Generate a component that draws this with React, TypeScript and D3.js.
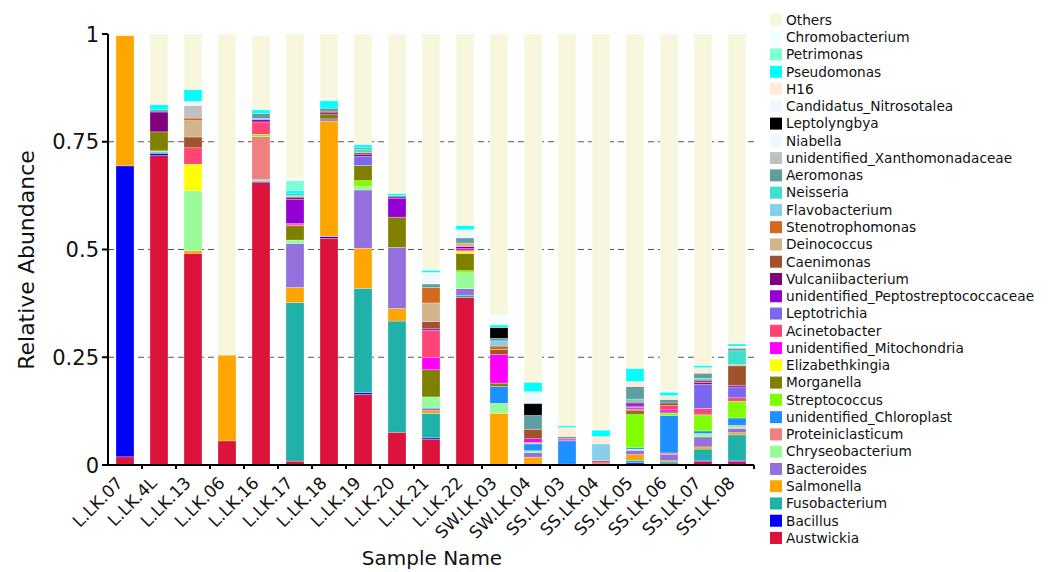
import React from "react";
import * as d3 from "d3";

const samples = ["L.LK.07","L.LK.4L","L.LK.13","L.LK.06","L.LK.16","L.LK.17","L.LK.18","L.LK.19","L.LK.20","L.LK.21","L.LK.22","SW.LK.03","SW.LK.04","SS.LK.03","SS.LK.04","SS.LK.05","SS.LK.06","SS.LK.07","SS.LK.08"];

const Austwickia =        [0.019,0.718,0.491,0.056,0.655,0.009,0.526,0.164,0.076,0.060,0.389,0,0,0,0,0.002,0.002,0.008,0.008];
const Bacillus =          [0.675,0.005,0,0,0.002,0,0.004,0.004,0,0.003,0,0,0,0.002,0.003,0.003,0,0.003,0.003];
const Fusobacterium =     [0,0.003,0,0,0.002,0.368,0,0.242,0.258,0.057,0.005,0,0,0,0,0.006,0.005,0.026,0.059];
const Salmonella =        [0.302,0,0.006,0.199,0.002,0.035,0.268,0.093,0.029,0.006,0,0.120,0.018,0,0,0.013,0.003,0.005,0.005];
const Bacteroides =       [0,0,0,0,0.002,0.102,0.005,0.135,0.142,0.006,0.015,0,0.011,0,0,0.010,0.015,0.023,0.010];
const Chryseobacterium =  [0,0.003,0.139,0,0,0.008,0,0.008,0,0.026,0.037,0.023,0.004,0,0,0.003,0,0.008,0.004];
const Proteiniclasticum = [0,0,0,0,0.099,0,0,0,0,0,0,0,0,0,0,0,0.003,0,0.003];
const Chloroplast =       [0,0,0,0,0,0,0,0,0,0,0,0.039,0.016,0.054,0,0.004,0.087,0.006,0.017];
const Streptococcus =     [0,0,0,0,0.005,0,0,0.014,0,0,0.005,0,0.003,0,0,0.076,0.005,0.036,0.039];
const Morganella =        [0,0.044,0,0,0,0.033,0.010,0.035,0.070,0.063,0.040,0.008,0,0,0,0.009,0.003,0.003,0];
const Elizabethkingia =   [0,0,0.062,0,0,0,0,0,0,0,0.006,0,0,0,0,0,0,0,0];
const Mitochondria =      [0,0,0,0,0,0.002,0,0,0,0.029,0.005,0.066,0.009,0.002,0,0.003,0.005,0,0];
const Acinetobacter =     [0,0,0.038,0,0.029,0.003,0,0,0,0.062,0,0,0,0.003,0.004,0.004,0.010,0.013,0.008];
const Leptotrichia =      [0,0,0,0,0,0,0,0.021,0,0,0,0,0,0,0,0.004,0,0.056,0.025];
const Peptostrep =        [0,0,0,0,0.006,0.056,0,0,0.044,0.004,0,0,0,0,0,0.005,0,0.005,0.003];
const Vulcaniibacterium = [0,0.046,0,0,0,0.004,0.004,0.005,0.003,0,0.005,0,0,0,0,0.003,0,0,0];
const Caenimonas =        [0,0,0.025,0,0,0.003,0.004,0.004,0,0.017,0,0.012,0.022,0,0.003,0.003,0.006,0.005,0.046];
const Deinococcus =       [0,0,0.038,0,0,0,0,0,0,0.043,0.008,0,0,0,0,0,0,0,0.003];
const Stenotrophomonas =  [0,0,0.006,0,0,0,0,0,0,0.036,0,0.008,0,0,0,0,0,0,0];
const Flavobacterium =    [0,0,0,0,0,0,0,0,0,0,0,0.012,0,0,0.039,0,0,0,0];
const Neisseria =         [0,0,0,0,0.002,0.003,0,0.008,0,0,0,0,0,0,0,0.005,0,0.004,0.032];
const Aeromonas =         [0,0.005,0,0,0.012,0.003,0.007,0.003,0.003,0.008,0.012,0.006,0.032,0.005,0,0.029,0.008,0.012,0.006];
const Xanthomonadaceae =  [0,0,0.029,0,0,0,0,0,0,0,0,0,0,0,0,0,0,0,0];
const Niabella =          [0,0,0.010,0,0,0,0,0,0,0.027,0.019,0,0,0,0,0,0,0,0];
const Leptolyngbya =      [0,0,0,0,0,0,0,0,0,0,0,0.025,0.028,0,0,0,0,0,0];
const Candidatus =        [0,0,0,0,0,0,0,0,0,0,0,0,0.027,0,0,0,0,0,0];
const H16 =               [0,0,0,0,0,0,0,0,0,0,0,0,0,0.021,0.017,0.012,0.009,0.013,0.005];
const Pseudomonas =       [0,0.012,0.027,0,0.008,0.008,0.017,0.007,0.005,0.005,0.010,0.006,0.022,0.004,0.015,0.030,0.008,0.005,0.005];
const Petrimonas =        [0,0,0,0,0,0.023,0,0,0,0,0,0,0,0,0,0,0,0,0];
const Chromobacterium =   [0,0,0,0,0,0.005,0.005,0,0,0,0,0.023,0,0,0,0,0.005,0,0];
const Others =            [0.004,0.164,0.129,0.745,0.172,0.335,0.150,0.257,0.370,0.548,0.444,0.652,0.808,0.909,0.919,0.776,0.826,0.769,0.719];

const yTicks = [0, 0.25, 0.5, 0.75, 1];
const yTickLabels = ["0", "0.25", "0.5", "0.75", "1"];

// bottom -> top stacking order
const taxa: [string, string, number[]][] = [
  ["Austwickia", "#DC143C", Austwickia],
  ["Bacillus", "#0000FF", Bacillus],
  ["Fusobacterium", "#20B2AA", Fusobacterium],
  ["Salmonella", "#FFA500", Salmonella],
  ["Bacteroides", "#9370DB", Bacteroides],
  ["Chryseobacterium", "#98FB98", Chryseobacterium],
  ["Proteiniclasticum", "#F08080", Proteiniclasticum],
  ["unidentified_Chloroplast", "#1E90FF", Chloroplast],
  ["Streptococcus", "#7FFF00", Streptococcus],
  ["Morganella", "#808000", Morganella],
  ["Elizabethkingia", "#FFFF00", Elizabethkingia],
  ["unidentified_Mitochondria", "#FF00FF", Mitochondria],
  ["Acinetobacter", "#FF4573", Acinetobacter],
  ["Leptotrichia", "#7B68EE", Leptotrichia],
  ["unidentified_Peptostreptococcaceae", "#9400D3", Peptostrep],
  ["Vulcaniibacterium", "#800080", Vulcaniibacterium],
  ["Caenimonas", "#A0522D", Caenimonas],
  ["Deinococcus", "#D2B48C", Deinococcus],
  ["Stenotrophomonas", "#D2691E", Stenotrophomonas],
  ["Flavobacterium", "#87CEEB", Flavobacterium],
  ["Neisseria", "#40E0D0", Neisseria],
  ["Aeromonas", "#5F9EA0", Aeromonas],
  ["unidentified_Xanthomonadaceae", "#C0C0C0", Xanthomonadaceae],
  ["Niabella", "#F0F8FF", Niabella],
  ["Leptolyngbya", "#000000", Leptolyngbya],
  ["Candidatus_Nitrosotalea", "#F0F8FF", Candidatus],
  ["H16", "#FDEBD7", H16],
  ["Pseudomonas", "#00FFFF", Pseudomonas],
  ["Petrimonas", "#7FFFD4", Petrimonas],
  ["Chromobacterium", "#F0FFFF", Chromobacterium],
  ["Others", "#F8F7DE", Others],
];

const FONT = "'DejaVu Sans', sans-serif";

export default function App() {
  const W = 1053, H = 572;
  const left = 108, right = 754, top = 34, bottom = 465;
  const x = d3.scaleBand<string>().domain(samples).range([left, right]).paddingInner(0.47).paddingOuter(0.235);
  const y = d3.scaleLinear().domain([0, 1]).range([bottom, top]);

  const table = samples.map((s, i) => {
    const row: any = { sample: s };
    taxa.forEach(([n, , v]) => (row[n] = v[i]));
    return row;
  });
  const stack = d3.stack<any>().keys(taxa.map((t) => t[0]))(table);
  const colorOf = new Map(taxa.map((t) => [t[0], t[1]]));

  const legendItems = [...taxa].reverse();
  const ly = d3.scalePoint<string>().domain(legendItems.map((t) => t[0])).range([20, 538]);

  const boundaries = d3.range(samples.length + 1).map((i) => left + i * x.step());

  return (
    <svg width={W} height={H} style={{ position: "absolute", left: 0, top: 0, background: "#fff" }} fontFamily={FONT}>
      {/* grid */}
      {[0.25, 0.5, 0.75].map((t) => (
        <line key={t} x1={left} x2={right} y1={y(t)} y2={y(t)} stroke="#555" strokeWidth={1} strokeDasharray="6,4" />
      ))}
      {/* bars */}
      {stack.map((layer) => (
        <g key={layer.key} fill={colorOf.get(layer.key)}>
          {layer.map((d, i) => {
            const h = y(d[0]) - y(d[1]);
            if (h <= 0) return null;
            return (
              <rect key={i} x={x(samples[i])} width={x.bandwidth()} y={y(d[1])} height={h}
                stroke="#ffffff" strokeOpacity={0.45} strokeWidth={0.6} />
            );
          })}
        </g>
      ))}
      {/* y axis */}
      <line x1={left} x2={left} y1={top} y2={bottom + 1} stroke="#000" strokeWidth={2} />
      {yTicks.map((t, i) => (
        <g key={t}>
          <line x1={left - 6} x2={left} y1={y(t)} y2={y(t)} stroke="#000" strokeWidth={2} />
          <text x={left - 9} y={y(t)} dy="0.36em" textAnchor="end" fontSize={21} fill="#111">{yTickLabels[i]}</text>
        </g>
      ))}
      {/* x axis */}
      <line x1={left - 1} x2={right} y1={bottom} y2={bottom} stroke="#000" strokeWidth={2} />
      {boundaries.slice(1).map((bx, i) => (
        <line key={i} x1={bx} x2={bx} y1={bottom} y2={bottom + 4} stroke="#000" strokeWidth={2} />
      ))}
      {samples.map((s) => {
        const cx = (x(s) as number) + x.bandwidth() / 2;
        return (
          <text key={s} transform={`translate(${cx - 1},${bottom + 19}) rotate(-45)`} textAnchor="end"
            fontSize={17} fill="#111">{s}</text>
        );
      })}
      <text transform={`translate(34,260) rotate(-90)`} textAnchor="middle" fontSize={22} fill="#111">Relative Abundance</text>
      <text x={432} y={565} textAnchor="middle" fontSize={20} fill="#111">Sample Name</text>
      {/* legend */}
      {legendItems.map(([n, c]) => (
        <g key={n} transform={`translate(770,${ly(n)})`}>
          <rect x={0} y={-6} width={12} height={12} fill={c} />
          <text x={16} y={0} dy="0.35em" fontSize={13.7} fill="#111">{n}</text>
        </g>
      ))}
    </svg>
  );
}
